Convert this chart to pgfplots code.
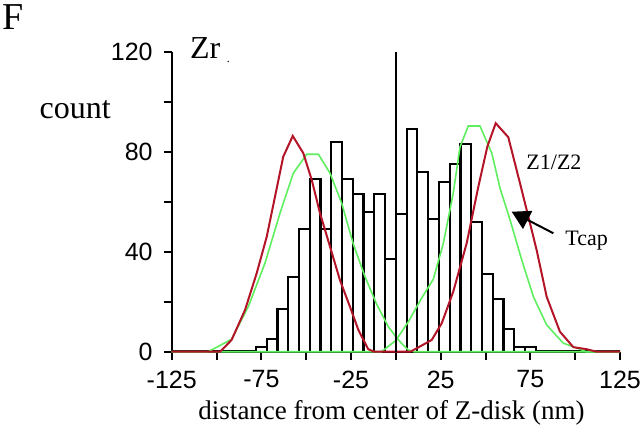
\documentclass[border=0pt]{standalone}
\usepackage{fontspec}
\setmainfont{Liberation Serif}
\newfontfamily\sansf{Liberation Sans}
\usepackage{pgfplots}
\pgfplotsset{compat=1.18}
\usetikzlibrary{arrows.meta}
\definecolor{zred}{RGB}{180,20,40}
\definecolor{zgreen}{RGB}{95,238,95}
\begin{document}
\begin{tikzpicture}
\begin{axis}[
  at={(0,0)}, anchor=south west,
  scale only axis, width=224.15pt, height=150pt,
  xmin=-125, xmax=125, ymin=0, ymax=120,
  axis lines*=left,
  x axis line style={black, line width=1.5pt},
  y axis line style={black, line width=1.1pt},
  xtick={-125,-100,...,125},
  xticklabels={-125,,-75,,-25,,25,,75,,125},
  ytick={0,20,...,120},
  yticklabels={0,,40,,80,,120},
  tick align=outside,
  major tick length=4pt,
  tick style={black, line width=1pt},
  tick label style={font=\sansf\fontsize{12.5}{12.5}\selectfont},
  xticklabel style={yshift=-2pt},
  yticklabel style={xshift=-2pt},
  clip=false,
]
\addplot[ybar, bar width=6, bar shift=0pt, fill=white, draw=black, line width=1.1pt] coordinates {
(-75,2) (-69,5) (-63,17) (-57,30) (-51,49) (-45,69) (-39,49) (-33,84) (-27,69) (-21,63) (-15,56) (-9,63) (-3,37)
(3,55) (9,89) (15,72) (21,53) (27,68) (33,75) (39,83) (45,52) (51,31) (57,21) (63,9) (69,2) (75,2)};

\addplot[zgreen, line width=0.8pt] coordinates {
(-125,0) (-104.6,0) (-91.6,5) (-82.3,18) (-73,35.4) (-64.6,55.4) (-57.2,71.4) (-49.7,79) (-43.2,79)
(-36.7,71.4) (-30.2,59.4) (-23.7,43) (-17.2,30) (-10.7,19) (-4.2,10) (1.4,4.7) (6.9,0.7) (10,0) (125,0)};
\addplot[zgreen, line width=0.8pt] coordinates {
(-125,0) (-8,0) (0,4.5) (7,12) (14,21) (20.9,29) (26.5,43.4) (32,63.4) (35.8,82) (40.4,90.3) (46.9,90.3)
(53.5,79.4) (58.1,65.4) (63.7,52.7) (70.2,36.7) (76.7,22) (84.1,10.7) (93.4,3.4) (102.7,1) (106,0) (125,0)};

\addplot[zred, line width=1pt] coordinates {
(-125,0) (-98,0) (-91.6,4.7) (-84.1,16.7) (-77.6,31.4) (-72,46) (-67.4,62) (-62.8,78) (-57.5,86.3)
(-51.6,79.4) (-46.9,68.7) (-42.3,55.4) (-36.7,42) (-31.2,28.7) (-25.6,18) (-20.9,8.7) (-15.4,1) (-12,0)
(8,0) (10.7,1) (20,4.7) (25.6,11.4) (32,24) (39.5,43.4) (46,66) (51,82) (55.7,91.4) (62.7,85.8)
(68.3,70) (73.9,54) (78.5,40.7) (84.1,22) (91.5,8) (99,1.8) (106.4,1) (112,0) (125,0)};

\addplot[black, line width=1pt] coordinates {(0,0) (0,120)};

\node[anchor=base west, inner sep=0, font=\fontsize{16}{16}\selectfont] at (axis cs:-115,117.4) {Zr};
\node[anchor=base west, inner sep=0, font=\fontsize{6}{6}\selectfont] at (axis cs:-94.5,115.8) {.};
\node[anchor=base west, inner sep=0, font=\fontsize{11}{11}\selectfont] at (axis cs:72.6,73) {Z1/Z2};
\node[anchor=base west, inner sep=0, font=\fontsize{11}{11}\selectfont] at (axis cs:94.3,42.3) {Tcap};
\draw[-{Triangle[length=9pt,width=10pt]}, line width=1pt] (axis cs:87.8,47.4) -- (axis cs:64.6,56);
\node[anchor=base west, inner sep=0, font=\fontsize{16}{16}\selectfont] at (axis cs:-198.9,93.4) {count};
\node[anchor=base west, inner sep=0, font=\fontsize{19}{19}\selectfont] at (axis cs:-219.8,128.7) {F};
\node[anchor=base, inner sep=0, font=\fontsize{13.5}{13.5}\selectfont] at (axis cs:-2.4,-27.3) {distance from center of Z-disk (nm)};
\end{axis}
\pgfresetboundingbox
\useasboundingbox (-85.85pt,-41.15pt) rectangle (234.15pt,175.85pt);
\end{tikzpicture}
\end{document}
